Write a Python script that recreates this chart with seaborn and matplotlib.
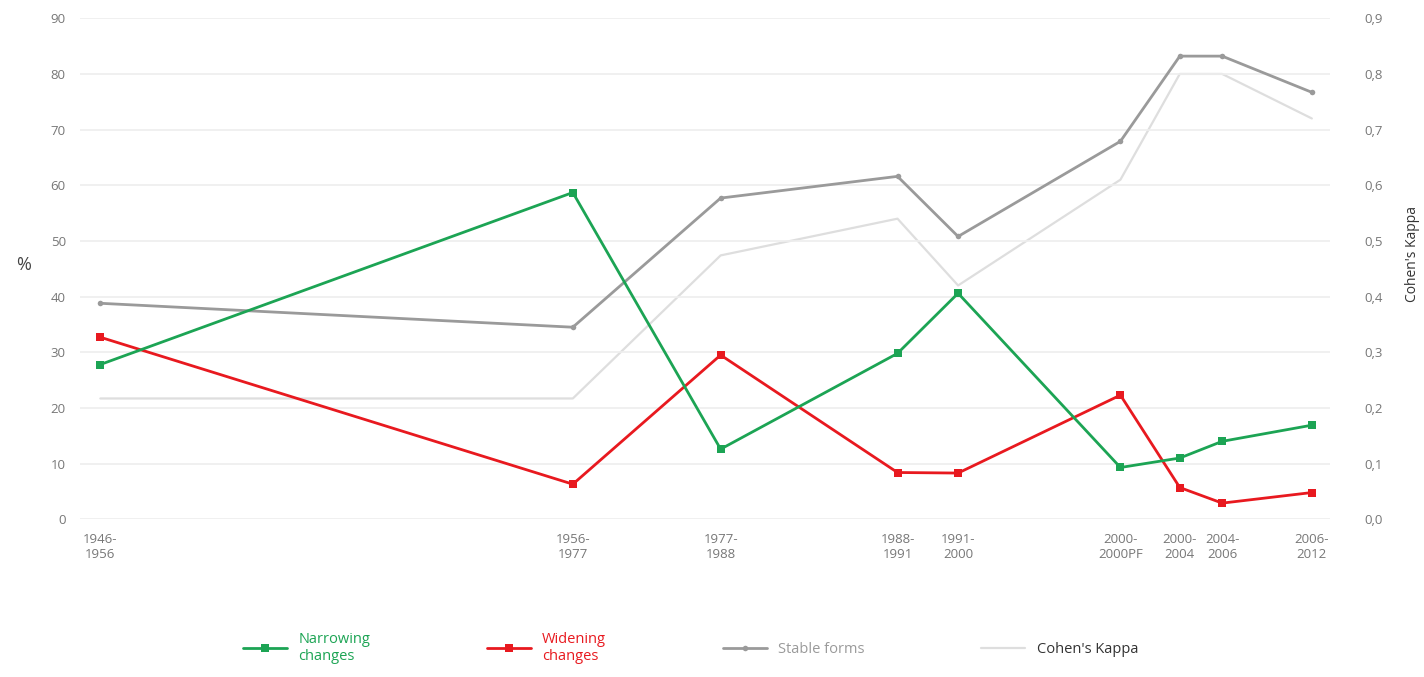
import pandas as pd
import matplotlib.pyplot as plt
import seaborn as sns

periods = ["1946-\n1956", "1956-\n1977", "1977-\n1988", "1988-\n1991", "1991-\n2000",
           "2000-\n2000PF", "2000-\n2004", "2004-\n2006", "2006-\n2012"]
# horizontal position of each period on the axis (as spaced in the source chart)
period_pos = [0, 39.0, 51.2, 65.8, 70.8, 84.2, 89.1, 92.6, 100]

narrowing = [27.8, 58.7, 12.6, 29.8, 40.6, 9.3, 11.0, 14.0, 16.9]
widening = [32.7, 6.3, 29.5, 8.4, 8.3, 22.3, 5.7, 2.9, 4.8]
stable_forms = [38.8, 34.5, 57.7, 61.6, 50.8, 67.9, 83.2, 83.2, 76.7]
cohens_kappa = [0.217, 0.217, 0.474, 0.54, 0.42, 0.61, 0.80, 0.80, 0.72]

GREEN = "#1ca454"
RED = "#e8191f"
GRAY = "#9a9a9a"
LIGHT = "#dedede"

sns.set_style("white")
plt.rcParams["font.family"] = ["Open Sans", "DejaVu Sans"]

df = pd.DataFrame({"pos": period_pos, "narrowing": narrowing, "widening": widening,
                   "stable": stable_forms, "kappa": cohens_kappa})

fig = plt.figure(figsize=(14.24, 6.77), dpi=100)
ax = fig.add_axes([0.056, 0.233, 0.878, 0.74])
ax2 = ax.twinx()

sns.lineplot(data=df, x="pos", y="kappa", ax=ax2, color=LIGHT, lw=1.6, label="Cohen's Kappa", legend=False)
sns.lineplot(data=df, x="pos", y="stable", ax=ax, color=GRAY, lw=2, marker="o", markersize=4,
             markeredgewidth=0, label="Stable forms", legend=False)
sns.lineplot(data=df, x="pos", y="widening", ax=ax, color=RED, lw=2, marker="s", markersize=6,
             markeredgewidth=0, label="Widening\nchanges", legend=False)
sns.lineplot(data=df, x="pos", y="narrowing", ax=ax, color=GREEN, lw=2, marker="s", markersize=6,
             markeredgewidth=0, label="Narrowing\nchanges", legend=False)

ax.set_zorder(ax2.get_zorder() + 1)
ax.patch.set_visible(False)

ax.set_ylim(0, 90)
ax2.set_ylim(0, 0.9)
ax.set_xlim(-1.7, 101.5)
ax.set_yticks(range(0, 91, 10))
ax.set_yticklabels(["0"] + [str(v) for v in range(10, 91, 10)])
ax2.set_yticks([i / 10 for i in range(10)])
ax2.set_yticklabels([f"{i / 10:.1f}".replace(".", ",") for i in range(10)])
ax.set_xticks(period_pos)
ax.set_xticklabels(periods)

ax.grid(axis="y", color="#eeeeee", lw=1.2)
ax.tick_params(axis="both", length=0, labelsize=9.5, labelcolor="#777777", pad=10)
ax2.tick_params(axis="y", length=0, labelsize=9.5, labelcolor="#777777", pad=25)
ax.set_xlabel("")
ax.set_ylabel("%", fontsize=13, color="#444444", rotation=0, labelpad=28)
ax.yaxis.set_label_coords(-0.045, 0.49)
ax2.set_ylabel("Cohen's Kappa", fontsize=10, color="#333333", rotation=90, labelpad=12)
ax2.yaxis.set_label_coords(1.06, 0.53)
for a in (ax, ax2):
    for s in a.spines.values():
        s.set_visible(False)

handles = [ax.lines[2], ax.lines[1], ax.lines[0], ax2.lines[0]]
labels = ["Narrowing\nchanges", "Widening\nchanges", "Stable forms", "Cohen's Kappa"]
leg = fig.legend(handles, labels, loc="lower center", bbox_to_anchor=(0.485, 0.0), ncol=4,
                 frameon=False, fontsize=10.5, columnspacing=8, handlelength=3)
for t, c in zip(leg.get_texts(), [GREEN, RED, GRAY, "#333333"]):
    t.set_color(c)

fig.savefig("out.png", dpi=100)
